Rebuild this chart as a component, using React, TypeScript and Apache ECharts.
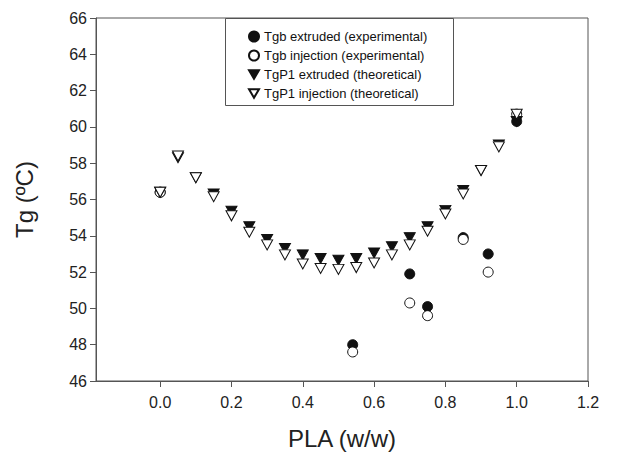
import React, { useEffect, useRef } from "react";
import * as echarts from "echarts";

const FONT = "'Liberation Sans', Arial, Helvetica, sans-serif";

const xTicks = [0, 0.2, 0.4, 0.6, 0.8, 1.0, 1.2];

const expX = [0, 0.54, 0.7, 0.75, 0.85, 0.92, 1.0];
const tgbExtruded = [56.4, 48.0, 51.9, 50.1, 53.9, 53.0, 60.3];
const tgbInjection = [56.4, 47.6, 50.3, 49.6, 53.8, 52.0, 60.7];

const theoX = [0, 0.05, 0.1, 0.15, 0.2, 0.25, 0.3, 0.35, 0.4, 0.45, 0.5, 0.55, 0.6, 0.65, 0.7, 0.75, 0.8, 0.85, 0.9, 0.95, 1.0];
const tgP1Extruded = [56.4, 58.3, 57.2, 56.3, 55.35, 54.5, 53.8, 53.3, 52.95, 52.75, 52.65, 52.75, 53.05, 53.4, 53.9, 54.5, 55.4, 56.5, 57.6, 59.0, 60.3];
const tgP1Injection = [56.4, 58.4, 57.2, 56.15, 55.1, 54.2, 53.5, 52.95, 52.45, 52.2, 52.15, 52.25, 52.5, 52.95, 53.5, 54.25, 55.2, 56.3, 57.6, 58.9, 60.7];

const seriesNames = [
  "Tgb extruded (experimental)",
  "Tgb injection (experimental)",
  "TgP1 extruded (theoretical)",
  "TgP1 injection (theoretical)",
];

const DOWN_TRI = "path://M0 0L20 0L10 17.3Z";

function pairs(xs: number[], ys: number[]) {
  return xs.map((x, i) => [x, ys[i]]);
}

export default function App() {
  const ref = useRef<HTMLDivElement>(null);
  useEffect(() => {
    if (!ref.current) return;
    const chart = echarts.init(ref.current, null, { renderer: "svg" });
    const filled = { color: "#111", borderColor: "#111", borderWidth: 1, opacity: 1 };
    const open = { color: "#fff", borderColor: "#111", borderWidth: 1, opacity: 1 };
    chart.setOption({
      animation: false,
      backgroundColor: "#fff",
      textStyle: { fontFamily: FONT },
      grid: {
        left: 96,
        top: 18,
        width: 492,
        height: 366,
        show: true,
        borderColor: "#555",
        borderWidth: 1,
        backgroundColor: "transparent",
      },
      xAxis: {
        type: "value",
        min: -0.18,
        max: 1.2,
        splitLine: { show: false },
        axisLine: { show: true, onZero: false, lineStyle: { color: "#555", width: 1 } },
        axisTick: { show: true, inside: false, length: 6, customValues: xTicks, lineStyle: { color: "#555" } },
        axisLabel: {
          customValues: xTicks,
          formatter: (v: number) => v.toFixed(1),
          fontSize: 16,
          color: "#222",
          margin: 13,
          fontFamily: FONT,
        },
        name: "PLA (w/w)",
        nameLocation: "middle",
        nameGap: 45,
        nameTextStyle: { fontSize: 24, color: "#222", fontFamily: FONT },
      },
      yAxis: {
        type: "value",
        min: 46,
        max: 66,
        interval: 2,
        splitLine: { show: false },
        axisLine: { show: true, onZero: false, lineStyle: { color: "#555", width: 1 } },
        axisTick: { show: true, inside: false, length: 6, lineStyle: { color: "#555" } },
        axisLabel: { fontSize: 16, color: "#222", margin: 9, fontFamily: FONT },
        name: "Tg (ºC)",
        nameLocation: "middle",
        nameGap: 60,
        nameTextStyle: { fontSize: 24, color: "#222", fontFamily: FONT },
      },
      legend: {
        orient: "vertical",
        left: 243,
        top: 25,
        itemWidth: 10,
        itemHeight: 10,
        itemGap: 6,
        textStyle: { fontSize: 13, color: "#111", fontFamily: FONT },
        data: seriesNames,
      },
      graphic: [
        {
          type: "rect",
          left: 225,
          top: 18,
          shape: { width: 228, height: 87 },
          style: { fill: "#fff", stroke: "#555", lineWidth: 1 },
          z: -1,
          silent: true,
        },
      ],
      series: [
        {
          name: seriesNames[0],
          type: "scatter",
          symbol: "circle",
          symbolSize: 10,
          itemStyle: filled,
          data: pairs(expX, tgbExtruded),
        },
        {
          name: seriesNames[1],
          type: "scatter",
          symbol: "circle",
          symbolSize: 10,
          itemStyle: open,
          data: pairs(expX, tgbInjection),
        },
        {
          name: seriesNames[2],
          type: "scatter",
          symbol: DOWN_TRI,
          symbolSize: [11, 10],
          itemStyle: filled,
          data: pairs(theoX, tgP1Extruded),
        },
        {
          name: seriesNames[3],
          type: "scatter",
          symbol: DOWN_TRI,
          symbolSize: [11, 10],
          itemStyle: open,
          data: pairs(theoX, tgP1Injection),
        },
      ],
    });
    return () => chart.dispose();
  }, []);
  return (
    <div
      ref={ref}
      style={{ position: "fixed", left: 0, top: 0, width: 638, height: 455, background: "#fff" }}
    />
  );
}
